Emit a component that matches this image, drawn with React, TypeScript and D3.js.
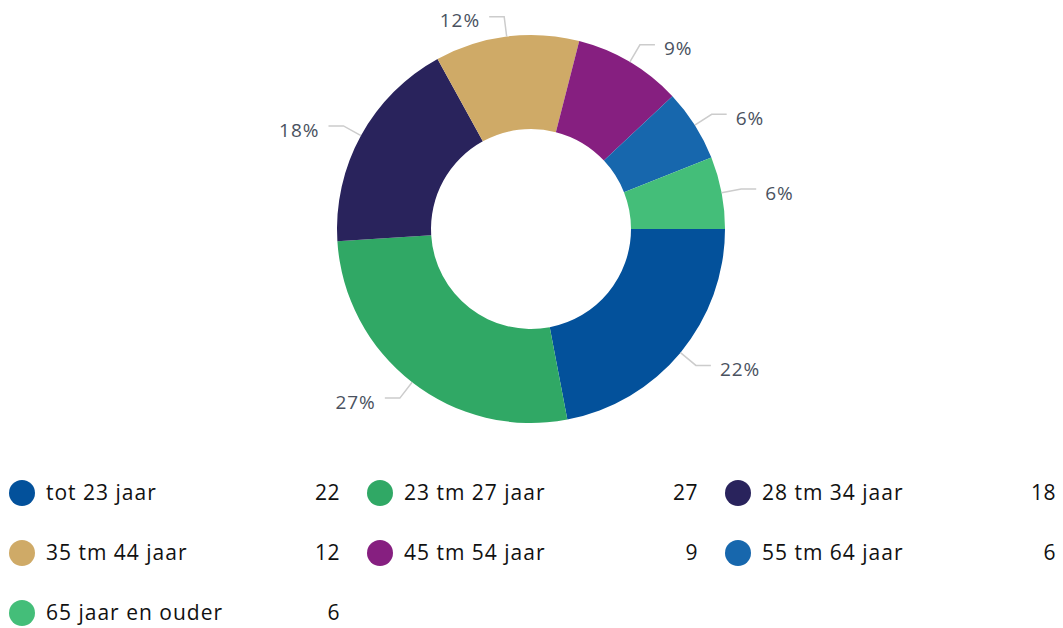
import { pie, arc, scaleOrdinal, scaleBand } from "d3";

const categories = [
  "tot 23 jaar",
  "23 tm 27 jaar",
  "28 tm 34 jaar",
  "35 tm 44 jaar",
  "45 tm 54 jaar",
  "55 tm 64 jaar",
  "65 jaar en ouder",
];
const values = [22, 27, 18, 12, 9, 6, 6];
const colors = [
  "#03519b",
  "#30a865",
  "#29235c",
  "#cfaa67",
  "#861f80",
  "#1767ad",
  "#44be79",
];

const W = 1063;
const H = 628;
const cx = 531;
const cy = 229;
const outerR = 194;
const innerR = 100;
const FONT = "'Open Sans', sans-serif";

export default function App() {
  const total = values.reduce((a, b) => a + b, 0);
  const color = scaleOrdinal<string, string>().domain(categories).range(colors);

  // start at 3 o'clock, clockwise
  const slices = pie<number>()
    .sort(null)
    .value((d) => d)
    .startAngle(Math.PI / 2)
    .endAngle(Math.PI / 2 + Math.PI * 2)(values);

  const sliceArc = arc<any>().innerRadius(innerR).outerRadius(outerR);

  const polar = (a: number, r: number) => [cx + Math.sin(a) * r, cy - Math.cos(a) * r];

  // legend grid: 3 columns, rows of 60px
  const colX = scaleBand<number>().domain([0, 1, 2]).range([0, 1074]);
  const rowY = (i: number) => 493 + Math.floor(i / 3) * 60;

  return (
    <svg
      width={W}
      height={H}
      style={{ position: "absolute", left: 0, top: 0, background: "#fff" }}
    >
      <g>
        {slices.map((s, i) => (
          <path
            key={i}
            d={sliceArc(s) as string}
            transform={`translate(${cx},${cy})`}
            fill={color(categories[i])}
          />
        ))}
      </g>
      <g>
        {slices.map((s, i) => {
          const mid = (s.startAngle + s.endAngle) / 2;
          const right = Math.sin(mid) >= 0;
          const sign = right ? 1 : -1;
          const [x0, y0] = polar(mid, outerR);
          const [x1, y1] = polar(mid, outerR + 20);
          const x2 = x1 + sign * 15;
          const pct = Math.round((values[i] / total) * 100);
          return (
            <g key={i}>
              <path
                d={`M${x0},${y0}L${x1},${y1}L${x2},${y1}`}
                fill="none"
                stroke="#cccccc"
                strokeWidth={1.5}
              />
              <text
                x={x1 + sign * 24}
                y={y1 + 4}
                dy="0.35em"
                textAnchor={right ? "start" : "end"}
                fontFamily={FONT}
                fontSize={19}
                letterSpacing={1}
                fill="#4a5260"
              >
                {pct}%
              </text>
            </g>
          );
        })}
      </g>
      <g>
        {categories.map((c, i) => {
          const x = colX(i % 3) as number;
          const y = rowY(i);
          return (
            <g key={c} transform={`translate(${x},${y})`}>
              <circle cx={22} cy={0} r={13} fill={color(c)} />
              <text
                x={46}
                y={0}
                dy="0.35em"
                fontFamily={FONT}
                fontSize={21}
                letterSpacing={1}
                fill="#111"
              >
                {c}
              </text>
              <text
                x={340}
                y={0}
                dy="0.35em"
                textAnchor="end"
                fontFamily={FONT}
                fontSize={21}
                letterSpacing={0.5}
                fill="#111"
              >
                {values[i]}
              </text>
            </g>
          );
        })}
      </g>
    </svg>
  );
}
